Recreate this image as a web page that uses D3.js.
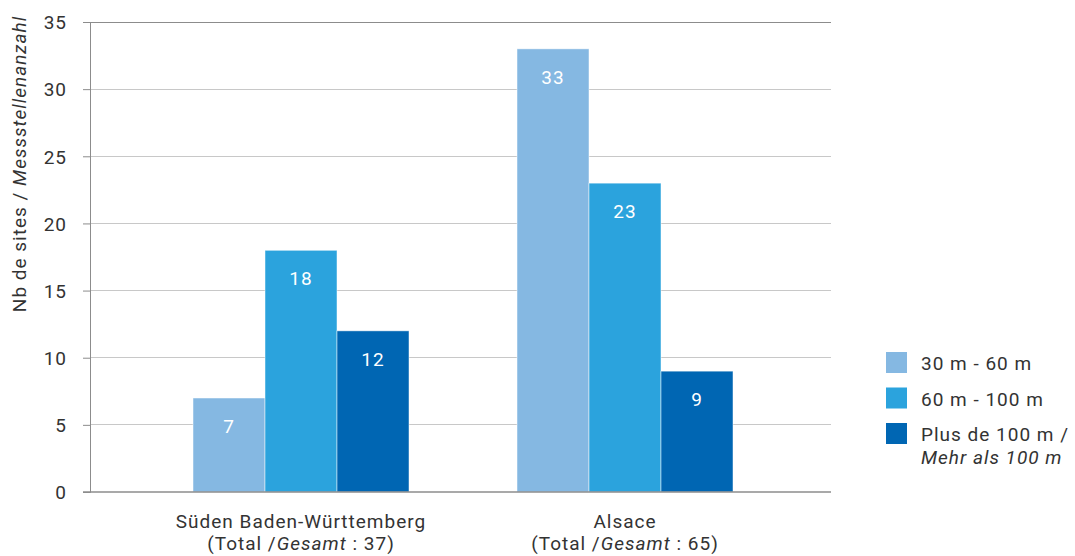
<!DOCTYPE html>
<html><head><meta charset="utf-8">
<script src="https://cdn.jsdelivr.net/npm/d3@7"></script>
<style>body{margin:0;background:#fff}text{font-family:Roboto,"DejaVu Sans",sans-serif;letter-spacing:1px}</style>
</head><body><svg id="c" width="1075" height="556"></svg>
<script>
const categories = ["Süden Baden-Württemberg", "Alsace"];
const totals = [37, 65];
const seriesNames = ["30 m - 60 m", "60 m - 100 m", "Plus de 100 m /"];
const seriesNames2 = ["", "", "Mehr als 100 m"];
const s1 = [7, 33];
const s2 = [18, 23];
const s3 = [12, 9];
const colors = ["#85b8e2", "#2ba3dd", "#0066b3"];
const yTicks = [0, 5, 10, 15, 20, 25, 30, 35];

const series = [s1, s2, s3];
const FS = "19px";
const svg = d3.select("#c");
const plot = {left: 90, right: 831, top: 22, bottom: 492};
const y = d3.scaleLinear().domain([0, 35]).range([plot.bottom, plot.top]);
const x0 = d3.scaleBand().domain(categories).range([139, 787]).paddingInner(1/3).paddingOuter(1/6);
const x1 = d3.scaleBand().domain([0,1,2]).range([0, x0.bandwidth()]);
const txt = "#333";

// gridlines
svg.append("g").selectAll("line").data(yTicks.filter(d => d > 0)).join("line")
  .attr("x1", plot.left).attr("x2", plot.right)
  .attr("y1", d => y(d)).attr("y2", d => y(d))
  .attr("stroke", d => d === 35 ? "#8c8c8c" : "#c8c8c8").attr("stroke-width", 1)
  .attr("shape-rendering", "crispEdges");

// y axis
const yAxis = svg.append("g").attr("transform", `translate(${plot.left},0)`)
  .call(d3.axisLeft(y).tickValues(yTicks).tickSize(7).tickPadding(16));
yAxis.select(".domain").attr("stroke", "#8c8c8c");
yAxis.selectAll(".tick line").attr("stroke", "#8c8c8c");
yAxis.selectAll(".tick text").attr("fill", txt).style("font-size", FS).style("font-family", "Roboto").attr("dy", "0.36em");

// bars
categories.forEach((c, ci) => {
  series.forEach((s, si) => {
    const v = s[ci];
    const bx = x0(c) + x1(si);
    svg.append("rect").attr("x", bx).attr("y", y(v))
      .attr("width", x1.bandwidth()).attr("height", y(0) - y(v))
      .attr("fill", colors[si]).attr("stroke", "rgba(255,255,255,0.6)").attr("stroke-width", 0.8);
    svg.append("text").attr("x", bx + x1.bandwidth()/2).attr("y", y(v) + 35)
      .attr("text-anchor", "middle").attr("fill", "#fff").style("font-size", FS).text(v);
  });
});

// baseline
svg.append("line").attr("x1", plot.left - 7).attr("x2", plot.right)
  .attr("y1", y(0)).attr("y2", y(0)).attr("stroke", "#8c8c8c").attr("stroke-width", 1.5);

// category labels
categories.forEach((c, ci) => {
  const cx = x0(c) + x0.bandwidth()/2;
  svg.append("text").attr("x", cx).attr("y", 528).attr("text-anchor", "middle")
    .attr("fill", txt).style("font-size", FS).text(c);
  const t = svg.append("text").attr("x", cx).attr("y", 550).attr("text-anchor", "middle")
    .attr("fill", txt).style("font-size", FS);
  t.append("tspan").text("(Total /");
  t.append("tspan").style("font-style", "italic").text("Gesamt");
  t.append("tspan").text(" : " + totals[ci] + ")");
});

// y label
const yl = svg.append("text").attr("transform", "translate(26,164) rotate(-90)")
  .attr("text-anchor", "middle").attr("fill", txt).style("font-size", FS);
yl.append("tspan").text("Nb de sites / ");
yl.append("tspan").style("font-style", "italic").text("Messstellenanzahl");

// legend
const lg = svg.append("g");
seriesNames.forEach((n, i) => {
  const ly = 352 + i * 35.5;
  lg.append("rect").attr("x", 886).attr("y", ly).attr("width", 21).attr("height", 21).attr("fill", colors[i]);
  lg.append("text").attr("x", 921).attr("y", ly + 18).attr("fill", txt).style("font-size", FS).text(n);
  if (seriesNames2[i]) lg.append("text").attr("x", 921).attr("y", ly + 41).attr("fill", txt)
    .style("font-size", FS).style("font-style", "italic").text(seriesNames2[i]);
});
</script></body></html>
